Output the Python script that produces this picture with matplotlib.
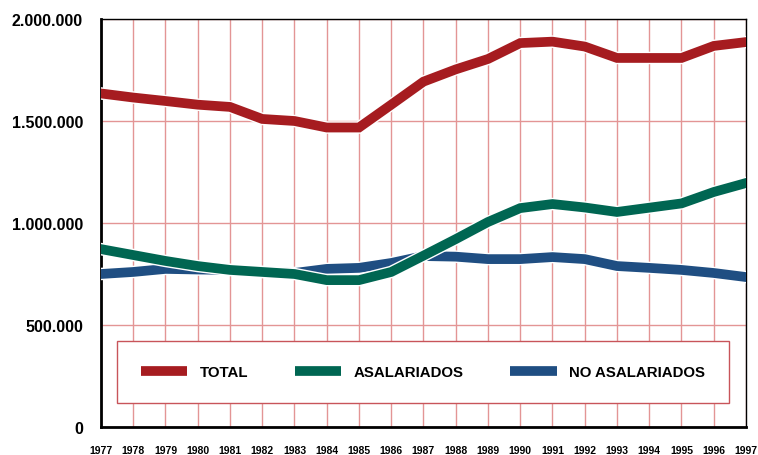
import numpy as np
import matplotlib.pyplot as plt
import matplotlib.patheffects as pe
from matplotlib.ticker import FuncFormatter

years = list(range(1977, 1998))
total = [1635000, 1615000, 1598000, 1580000, 1569000, 1510000, 1500000, 1468000, 1468000,
         1580000, 1693000, 1753000, 1804000, 1882000, 1889000, 1865000, 1809000, 1809000,
         1809000, 1868000, 1887000]
asalariados = [872000, 843000, 814000, 789000, 770000, 760000, 750000, 720000, 720000,
               760000, 840000, 921000, 1005000, 1073000, 1093000, 1076000, 1054000, 1075000,
               1096000, 1152000, 1196000]
no_asalariados = [750000, 760000, 775000, 772000, 770000, 760000, 755000, 775000, 780000,
                  804000, 838000, 835000, 823000, 823000, 833000, 823000, 789000, 780000,
                  770000, 755000, 735000]

series = [
    ("NO ASALARIADOS", no_asalariados, "#1f4e82"),
    ("ASALARIADOS", asalariados, "#006652"),
    ("TOTAL", total, "#a61c20"),
]

fig = plt.figure(figsize=(7.58, 4.56), dpi=100)
ax = fig.add_axes([101/758, 28/456, 645/758, 408/456])

handles = {}
for name, vals, col in series:
    ln, = ax.plot(years, vals, color=col, lw=7, solid_joinstyle='miter', zorder=3,
                  path_effects=[pe.Stroke(linewidth=9, foreground='white'), pe.Normal()])
    handles[name] = ln

ax.set_xlim(1977, 1997)
ax.set_ylim(0, 2000000)
ax.set_xticks(years)
ax.set_yticks([0, 500000, 1000000, 1500000, 2000000])
ax.yaxis.set_major_formatter(FuncFormatter(lambda v, p: f"{int(v):,}".replace(",", ".")))
ax.grid(True, color='#e39595', lw=1)
ax.set_axisbelow(True)
ax.tick_params(length=0)
ax.tick_params(axis='y', pad=13, labelsize=11.5)
ax.tick_params(axis='x', pad=13, labelsize=7.5)
for lab in ax.get_yticklabels():
    lab.set_fontweight('bold')
    lab.set_family('Liberation Sans')
for lab in ax.get_xticklabels():
    lab.set_fontweight('bold')
    lab.set_family(['Liberation Sans Narrow', 'Liberation Sans'])

for s in ['left', 'bottom']:
    ax.spines[s].set_linewidth(2)
for s in ['top', 'right']:
    ax.spines[s].set_linewidth(1)

# legend box
order = ["TOTAL", "ASALARIADOS", "NO ASALARIADOS"]
leg_handles = [plt.Line2D([], [], color=handles[n].get_color(), lw=7, solid_capstyle='butt')
               for n in order]
leg = ax.legend(leg_handles, order, loc='center', ncol=3,
                bbox_to_anchor=(0.0248, 0.06, 0.9488, 0.15), mode='expand',
                borderaxespad=0, handlelength=3.1, handletextpad=0.8, borderpad=1.6,
                fancybox=False, framealpha=1, edgecolor='#c8545a',
                prop={'family': 'Liberation Sans', 'weight': 'bold', 'size': 10.8})
leg.get_frame().set_linewidth(1)
leg.set_zorder(5)

fig.savefig('out.png', dpi=100)
